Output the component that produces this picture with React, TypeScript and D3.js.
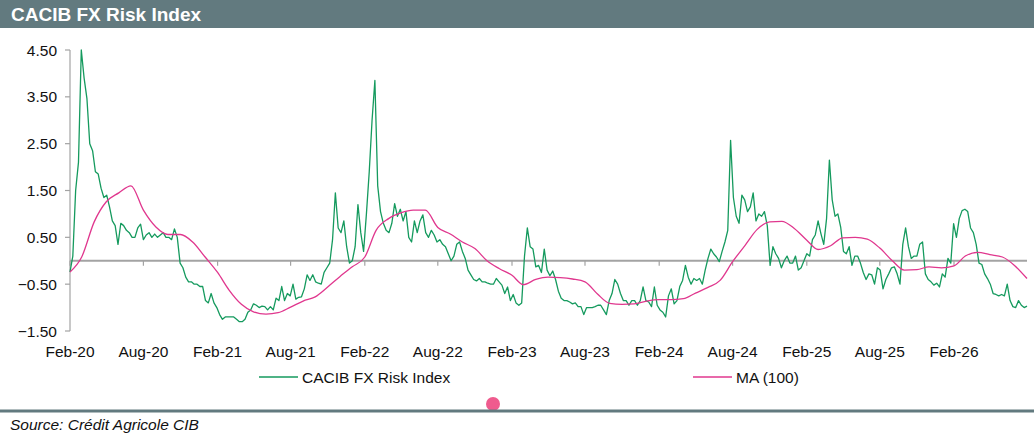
import * as d3 from 'd3'
import React, { useRef, useEffect } from 'react'

const startDate = new Date(2020, 1, 1)
const endDate = new Date(2026, 7, 1)

// weekly readings of the CACIB FX Risk Index, one block per year (from Feb-20)
const risk2020 = [
  -0.24, 0.1, 1.5, 2.1, 4.5, 3.9, 3.46, 2.5, 2.35, 1.9, 1.85, 1.55, 1.35, 1.4, 1.15, 0.85,
  0.75, 0.35, 0.8, 0.75, 0.65, 0.6, 0.5, 0.5, 0.7, 0.78, 0.45, 0.55, 0.6, 0.5, 0.57, 0.5,
  0.55, 0.6, 0.5, 0.5, 0.45, 0.68, 0.5, -0.05, -0.15, -0.35, -0.45, -0.45, -0.5, -0.5, -0.55, -0.55,
]
const risk2021 = [
  -0.85, -0.9, -0.7, -0.9, -1.0, -1.15, -1.25, -1.2, -1.2, -1.2, -1.2, -1.25, -1.3, -1.3, -1.25, -1.1,
  -1.05, -0.92, -0.95, -1.0, -0.97, -0.98, -1.05, -0.98, -1.05, -0.8, -0.85, -0.55, -0.85, -0.7, -0.75, -0.5,
  -0.82, -0.78, -0.77, -0.6, -0.3, -0.42, -0.3, -0.45, -0.48, -0.5, -0.25, -0.15, -0.05, 0.45, 1.45, 0.7,
  0.6, 0.85, 0.3, -0.05,
]
const risk2022 = [
  0.0, 0.3, 1.2, 0.6, 0.2, 1.0, 1.9, 3.0, 3.85, 1.6, 1.05, 0.8, 0.65, 0.6, 0.8, 1.22,
  0.95, 1.1, 0.85, 1.05, 0.5, 0.4, 0.85, 0.6, 0.85, 0.98, 0.6, 0.5, 0.65, 0.55, 0.4, 0.45,
  0.35, 0.3, 0.15, 0.0, 0.1, 0.35, 0.4, 0.2, 0.05, -0.2, -0.3, -0.4, -0.43, -0.38, -0.45, -0.45,
  -0.48, -0.5, -0.5, -0.38,
]
const risk2023 = [
  -0.45, -0.52, -0.7, -0.56, -0.85, -0.72, -0.9, -0.95, -0.9, 0.1, 0.7, 0.3, 0.25, -0.13, -0.1, -0.25,
  0.25, -0.2, -0.32, -0.22, -0.4, -0.65, -0.8, -0.85, -0.85, -0.88, -0.92, -0.9, -0.98, -0.98, -1.15, -1.0,
  -1.0, -1.0, -0.98, -0.95, -0.95, -1.05, -1.15, -0.85, -0.7, -0.4, -0.5, -0.7, -0.85, -0.85, -0.95, -0.85,
  -0.85, -0.95, -0.85, -0.56,
]
const risk2024 = [
  -0.85, -0.88, -0.98, -0.56, -0.95, -1.05, -1.1, -1.2, -0.75, -0.6, -0.92, -0.85, -0.55, -0.42, -0.1, -0.35,
  -0.5, -0.38, -0.42, -0.38, -0.5, -0.2, 0.05, 0.25, 0.15, 0.08, -0.02, 0.2, 0.4, 0.65, 2.57, 1.35,
  0.95, 0.8, 1.4, 1.3, 1.05, 1.15, 1.45, 0.85, 1.0, 0.95, 1.05, 0.75, -0.1, 0.3, 0.15, 0.05,
  -0.15, 0.0, 0.1, -0.05,
]
const risk2025 = [
  -0.05, 0.1, -0.2, -0.15, 0.0, 0.15, 0.1, 0.45, 0.55, 0.85, 0.58, 0.35, 0.9, 2.15, 1.3, 0.95,
  1.0, 0.72, 0.2, 0.15, 0.3, -0.1, 0.1, 0.1, -0.05, -0.25, -0.4, -0.28, -0.3, -0.5, -0.15, -0.2,
  -0.6, -0.4, -0.28, -0.15, -0.13, -0.28, -0.5, 0.35, 0.7, 0.3, 0.05, 0.1, 0.1, 0.35, 0.4, -0.28,
  -0.4, -0.45, -0.52, -0.48,
]
const risk2026 = [
  -0.56, -0.28, -0.35, 0.05, -0.05, 0.79, 0.5, 0.9, 1.07, 1.1, 1.05, 0.7, 0.6, 0.35, -0.05, -0.08,
  -0.28, -0.38, -0.5, -0.7, -0.72, -0.75, -0.72, -0.75, -0.5, -0.85, -0.98, -1.0, -0.85, -0.95, -1.0, -0.97,
]

// MA (100), read once a month from Feb-20
const maMonthly = [
  -0.24, 0.08, 0.83, 1.26, 1.45, 1.6, 1.08, 0.72, 0.56, 0.56, 0.4, 0.08, -0.25, -0.62, -0.93, -1.09,
  -1.14, -1.11, -0.99, -0.86, -0.77, -0.56, -0.34, -0.13, 0.08, 0.65, 0.9, 1.02, 1.08, 1.08, 0.71, 0.57,
  0.4, 0.26, 0.0, -0.17, -0.31, -0.51, -0.4, -0.35, -0.36, -0.39, -0.45, -0.71, -0.91, -0.93, -0.92, -0.86,
  -0.83, -0.83, -0.81, -0.69, -0.57, -0.42, -0.02, 0.33, 0.67, 0.83, 0.84, 0.69, 0.44, 0.24, 0.32, 0.49,
  0.5, 0.46, 0.27, 0.0, -0.2, -0.19, -0.13, -0.15, -0.11, 0.1, 0.18, 0.13, 0.08, -0.1, -0.38,
]

const yTicks = [-1.5, -0.5, 0.5, 1.5, 2.5, 3.5, 4.5]
const xTickLabels = [
  'Feb-20', 'Aug-20', 'Feb-21', 'Aug-21', 'Feb-22', 'Aug-22', 'Feb-23',
  'Aug-23', 'Feb-24', 'Aug-24', 'Feb-25', 'Aug-25', 'Feb-26',
]

const App = () => {
  const ref = useRef(null)

  useEffect(() => {
    draw()
  }, [])

  const draw = () => {
    const totalWidth = 1034
    const totalHeight = 439
    const font = "'Liberation Sans', Arial, sans-serif"
    const green = '#159a5e'
    const pink = '#e0378e'
    const grey = '#a3a3a3'

    const svg = d3.select(ref.current).attr('width', totalWidth).attr('height', totalHeight)
    svg.selectAll('*').remove()

    const weekly = [...risk2020, ...risk2021, ...risk2022, ...risk2023, ...risk2024, ...risk2025, ...risk2026]
    const riskData = weekly.map((v, i) => ({ date: d3.timeDay.offset(startDate, 7 * i), value: v }))
    const maData = maMonthly.map((v, i) => ({ date: d3.timeMonth.offset(startDate, i), value: v }))

    const xScale = d3.scaleTime().domain([startDate, endDate]).range([70, 1027])
    const yScale = d3.scaleLinear().domain([-1.5, 4.5]).range([331, 50])

    // header
    svg.append('rect').attr('x', 0).attr('y', 0).attr('width', totalWidth).attr('height', 28).attr('fill', '#627a7f')
    svg
      .append('text')
      .attr('x', 11)
      .attr('y', 20.5)
      .attr('fill', '#fff')
      .style('font', `bold 19px ${font}`)
      .text('CACIB FX Risk Index')

    // y axis
    svg
      .append('line')
      .attr('x1', 70)
      .attr('x2', 70)
      .attr('y1', yScale(4.5))
      .attr('y2', yScale(-1.5))
      .attr('stroke', grey)
      .attr('stroke-width', 1.2)

    const yt = svg.append('g').selectAll('g').data(yTicks).enter().append('g')
    yt.append('line')
      .attr('x1', 65)
      .attr('x2', 70)
      .attr('y1', (d) => yScale(d))
      .attr('y2', (d) => yScale(d))
      .attr('stroke', grey)
      .attr('stroke-width', 1.2)
    yt.append('text')
      .attr('x', 57)
      .attr('y', (d) => yScale(d))
      .attr('dy', '0.36em')
      .attr('text-anchor', 'end')
      .attr('fill', '#111')
      .style('font', `15.5px ${font}`)
      .text((d) => d3.format('.2f')(d))

    // zero line with date ticks
    svg
      .append('line')
      .attr('x1', 70)
      .attr('x2', 1027)
      .attr('y1', yScale(0))
      .attr('y2', yScale(0))
      .attr('stroke', grey)
      .attr('stroke-width', 2)

    const tickDates = xTickLabels.map((_, i) => d3.timeMonth.offset(startDate, 6 * i))
    const xt = svg.append('g').selectAll('g').data(tickDates).enter().append('g')
    xt.append('line')
      .attr('x1', (d) => xScale(d))
      .attr('x2', (d) => xScale(d))
      .attr('y1', yScale(0))
      .attr('y2', yScale(0) + 5)
      .attr('stroke', grey)
      .attr('stroke-width', 1.2)
    xt.append('text')
      .attr('x', (d) => xScale(d))
      .attr('y', 356.5)
      .attr('text-anchor', 'middle')
      .attr('fill', '#111')
      .style('font', `15.5px ${font}`)
      .text((d, i) => xTickLabels[i])

    // series
    const riskLine = d3
      .line<{ date: Date; value: number }>()
      .x((d) => xScale(d.date))
      .y((d) => yScale(d.value))

    const maLine = d3
      .line<{ date: Date; value: number }>()
      .curve(d3.curveMonotoneX)
      .x((d) => xScale(d.date))
      .y((d) => yScale(d.value))

    svg
      .append('path')
      .datum(riskData)
      .attr('fill', 'none')
      .attr('stroke', green)
      .attr('stroke-width', 1.3)
      .attr('stroke-linejoin', 'round')
      .attr('d', riskLine)

    svg
      .append('path')
      .datum(maData)
      .attr('fill', 'none')
      .attr('stroke', pink)
      .attr('stroke-width', 1.3)
      .attr('d', maLine)

    // legend
    const legend = [
      { label: 'CACIB FX Risk Index', color: green, x: 259 },
      { label: 'MA (100)', color: pink, x: 693 },
    ]
    const lg = svg.append('g').selectAll('g').data(legend).enter().append('g')
    lg.append('line')
      .attr('x1', (d) => d.x)
      .attr('x2', (d) => d.x + 39)
      .attr('y1', 377)
      .attr('y2', 377)
      .attr('stroke', (d) => d.color)
      .attr('stroke-width', 1.3)
    lg.append('text')
      .attr('x', (d) => d.x + 43)
      .attr('y', 383)
      .attr('fill', '#111')
      .style('font', `15.5px ${font}`)
      .text((d) => d.label)

    // footer
    svg.append('circle').attr('cx', 493).attr('cy', 404).attr('r', 7).attr('fill', '#ef5b8e')
    svg
      .append('line')
      .attr('x1', 0)
      .attr('x2', totalWidth)
      .attr('y1', 411)
      .attr('y2', 411)
      .attr('stroke', '#627a7f')
      .attr('stroke-width', 3)
    svg
      .append('text')
      .attr('x', 10)
      .attr('y', 430)
      .attr('fill', '#111')
      .style('font', `italic 15.5px ${font}`)
      .text('Source: Crédit Agricole CIB')
  }

  return <svg ref={ref} style={{ position: 'absolute', left: 0, top: 0 }} />
}

export default App
